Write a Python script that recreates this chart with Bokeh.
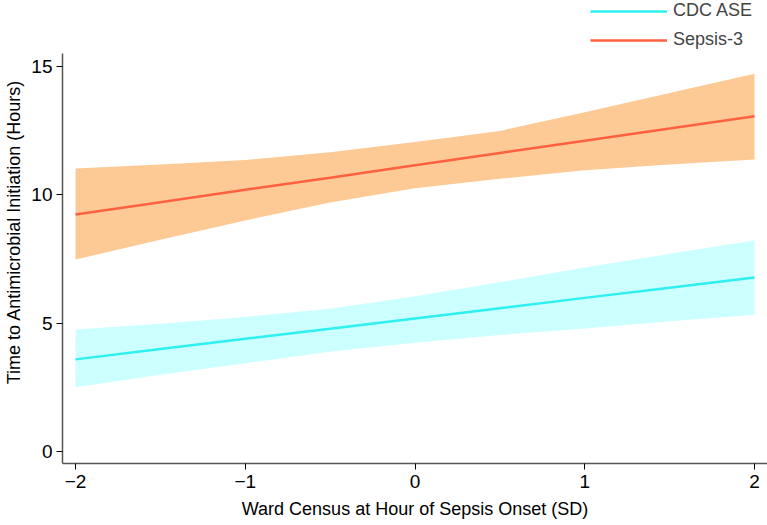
from bokeh.plotting import figure
from bokeh.models import (ColumnDataSource, Legend, LegendItem, FixedTicker, Range1d)
from bokeh.embed import file_html
from bokeh.resources import INLINE

# ---- data ----
x_vals = [-2.0, -1.5, -1.0, -0.5, 0.0, 0.5, 1.0, 1.5, 2.0]

cdc_fit   = [3.60, 4.00, 4.40, 4.79, 5.19, 5.59, 5.99, 6.38, 6.78]
cdc_upper = [4.76, 4.98, 5.25, 5.57, 6.05, 6.60, 7.17, 7.70, 8.22]
cdc_lower = [2.52, 3.00, 3.45, 3.90, 4.25, 4.55, 4.80, 5.08, 5.33]

sep_fit   = [9.23, 9.71, 10.19, 10.66, 11.14, 11.62, 12.10, 12.57, 13.05]
sep_upper = [11.02, 11.17, 11.35, 11.65, 12.05, 12.48, 13.20, 13.95, 14.70]
sep_lower = [7.48, 8.25, 9.00, 9.70, 10.25, 10.62, 10.95, 11.17, 11.37]

series_names = ["CDC ASE", "Sepsis-3"]
x_ticks = [-2, -1, 0, 1, 2]
x_tick_labels = ["\u22122", "\u22121", "0", "1", "2"]
y_ticks = [0, 5, 10, 15]

x_title = "Ward Census at Hour of Sepsis Onset (SD)"
y_title = "Time to Antimicrobial Initiation (Hours)"

FONT = "Liberation Sans"

src = ColumnDataSource(dict(x=x_vals, cf=cdc_fit, cu=cdc_upper, cl=cdc_lower,
                            sf=sep_fit, su=sep_upper, sl=sep_lower))

W, H = 767, 525
p = figure(width=W, height=H, output_backend="svg", toolbar_location=None,
           min_border_left=62, min_border_right=0, min_border_top=0, min_border_bottom=62,
           x_range=Range1d(-2.0766, 2.0766), y_range=Range1d(-0.447, 17.547))

p.outline_line_color = None
p.xgrid.visible = False
p.ygrid.visible = False
p.background_fill_color = "white"
p.border_fill_color = "white"

# bands
p.varea(x="x", y1="sl", y2="su", source=src, fill_color="#FDCA96", fill_alpha=1.0)
p.varea(x="x", y1="cl", y2="cu", source=src, fill_color="#CCFFFF", fill_alpha=1.0)

# lines
l_cdc = p.line(x="x", y="cf", source=src, line_color="#2EF0F0", line_width=2.5)
l_sep = p.line(x="x", y="sf", source=src, line_color="#FF6040", line_width=2.5)

# axes
for ax in (p.xaxis[0], p.yaxis[0]):
    ax.axis_line_color = "#555555"
    ax.axis_line_width = 1.5
    ax.major_tick_line_color = "black"
    ax.major_tick_line_width = 1
    ax.major_tick_out = 6
    ax.major_tick_in = 0
    ax.minor_tick_line_color = None
    ax.major_label_text_font = FONT
    ax.major_label_text_font_size = "19px"
    ax.major_label_text_color = "black"
    ax.axis_label_text_font = FONT
    ax.axis_label_text_font_size = "18px"
    ax.axis_label_text_font_style = "normal"
    ax.axis_label_text_color = "black"

p.xaxis[0].ticker = FixedTicker(ticks=x_ticks)
p.xaxis[0].major_label_overrides = {t: lab for t, lab in zip(x_ticks, x_tick_labels)}
p.xaxis[0].major_label_standoff = 5
p.xaxis[0].axis_label = x_title
p.xaxis[0].axis_label_standoff = 8

p.yaxis[0].ticker = FixedTicker(ticks=y_ticks)
p.yaxis[0].major_label_standoff = 4
p.yaxis[0].axis_label = y_title
p.yaxis[0].axis_label_standoff = 4
p.yaxis[0].bounds = (-0.447, 15.47)

legend = Legend(items=[LegendItem(label=series_names[0], renderers=[l_cdc]),
                       LegendItem(label=series_names[1], renderers=[l_sep])],
                location=(528, 413), padding=0, margin=0, spacing=8,
                glyph_width=77, glyph_height=20, label_standoff=6,
                label_text_font=FONT, label_text_font_size="18px",
                border_line_alpha=0, background_fill_alpha=0)
p.add_layout(legend, "center")

open("out.html", "w").write(file_html(p, INLINE))
